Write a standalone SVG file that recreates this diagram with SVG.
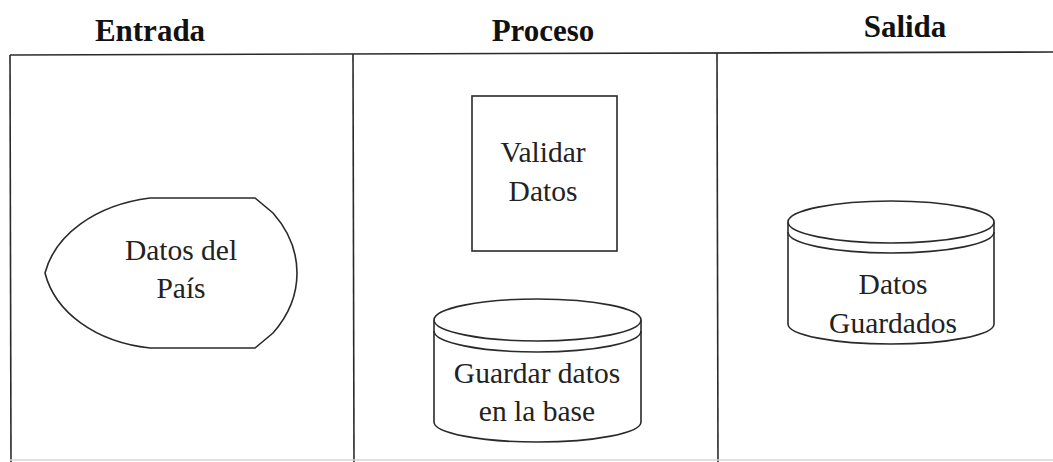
<svg xmlns="http://www.w3.org/2000/svg" width="1053" height="462" viewBox="0 0 1053 462">
<style>
.ln{fill:none;stroke:#2a2a2a;stroke-width:1.6}
.sh{fill:#fff;stroke:#2a2a2a;stroke-width:1.6}
.ttl{font-family:"Liberation Serif","Times New Roman",serif;font-weight:bold;font-size:31px;fill:#111;text-anchor:middle}
.lbl{font-family:"Liberation Serif","Times New Roman",serif;font-size:29.5px;fill:#222;text-anchor:middle}
</style>
<rect width="1053" height="462" fill="#fff"/>
<g id="frame">
<line class="ln" x1="10" y1="55" x2="1053" y2="52"/>
<line class="ln" x1="10" y1="55" x2="11" y2="462"/>
<line class="ln" x1="353" y1="54" x2="354" y2="462"/>
<line class="ln" x1="717" y1="53" x2="718" y2="462"/>
<line x1="10" y1="460" x2="1053" y2="460" stroke="#d5d5d5" stroke-width="1.5"/>
<text class="ttl" x="150" y="41">Entrada</text>
<text class="ttl" x="543" y="41">Proceso</text>
<text class="ttl" x="905" y="37">Salida</text>
</g>
<g id="datos-pais">
<path class="sh" d="M45 273 C55 235 95 205 150 198 L255 198 L273 213 C288 230 297 250 297 273 C297 296 288 316 273 333 L255 348 L150 348 C95 342 55 312 45 273 Z"/>
<text class="lbl" x="181" y="260">Datos del</text>
<text class="lbl" x="181" y="298">País</text>
</g>
<g id="validar-datos">
<rect class="sh" x="472" y="96" width="145" height="155"/>
<text class="lbl" x="543" y="162">Validar</text>
<text class="lbl" x="543" y="201">Datos</text>
</g>
<g id="guardar-datos">
<path class="sh" d="M434 320 L434 422 A103.5 20 0 0 0 641 422 L641 320"/>
<ellipse class="sh" cx="537.5" cy="320" rx="103.5" ry="21"/>
<path class="ln" d="M434 331 A103.5 21 0 0 0 641 331"/>
<text class="lbl" x="537" y="383">Guardar datos</text>
<text class="lbl" x="537" y="421">en la base</text>
</g>
<g id="datos-guardados">
<path class="sh" d="M788 222 L788 324 A103 20 0 0 0 994 324 L994 222"/>
<ellipse class="sh" cx="891" cy="222" rx="103" ry="21"/>
<path class="ln" d="M788 232 A103 21 0 0 0 994 232"/>
<text class="lbl" x="893" y="294">Datos</text>
<text class="lbl" x="893" y="333">Guardados</text>
</g>
<g id="connectors"></g>
</svg>
